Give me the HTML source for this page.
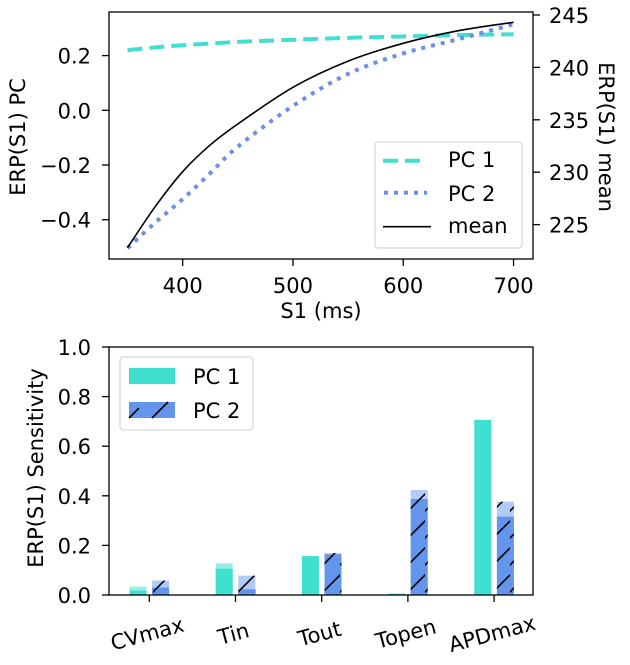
<!DOCTYPE html>
<html><head><meta charset="utf-8"><style>
html,body{margin:0;padding:0;background:#fff;}
svg{display:block;font-family:"DejaVu Sans","Liberation Sans",sans-serif;}
</style></head><body>
<svg id="chart" width="630" height="665" viewBox="0 0 630 665" xmlns="http://www.w3.org/2000/svg">
<defs>
<pattern id="hatch" patternUnits="userSpaceOnUse" width="17" height="27" x="0" y="0">
<line x1="-2" y1="27" x2="19" y2="6" stroke="#000" stroke-width="1.6"/>
<line x1="-2" y1="54" x2="19" y2="33" stroke="#000" stroke-width="1.6"/>
<line x1="-2" y1="0" x2="19" y2="-21" stroke="#000" stroke-width="1.6"/>
</pattern>
</defs>
<g id="topChart"></g>
<g id="botChart"></g>
</svg>
<script>
// top chart data
const s1Values = [350, 375, 400, 425, 450, 500, 550, 600, 650, 700];
const pc1Values = [0.22, 0.23, 0.238, 0.244, 0.25, 0.258, 0.265, 0.27, 0.275, 0.278];
const pc2Values = [-0.504, -0.411, -0.325, -0.23, -0.133, 0.016, 0.133, 0.208, 0.26, 0.315];
const meanValues = [222.8, 226.7, 230.05, 232.6, 234.6, 238.1, 240.6, 242.3, 243.5, 244.3];
const xTicks = [400, 500, 600, 700];
const yLeftTicks = [-0.4, -0.2, 0.0, 0.2];
const yLeftLabels = ["−0.4", "−0.2", "0.0", "0.2"];
const yRightTicks = [225, 230, 235, 240, 245];
// bottom chart data
const categories = ["CVmax", "Tin", "Tout", "Topen", "APDmax"];
const pc1Light = [0.034, 0.128, 0.157, 0.005, 0.706];
const pc1Dark = [0.018, 0.106, 0.157, 0.005, 0.706];
const pc2Light = [0.058, 0.078, 0.169, 0.423, 0.376];
const pc2Dark = [0.03, 0.023, 0.164, 0.387, 0.316];
const yBarTicks = [0.0, 0.2, 0.4, 0.6, 0.8, 1.0];

const NS = "http://www.w3.org/2000/svg";
const FS = 21;
function mk(parent, tag, attrs, text) {
  const e = document.createElementNS(NS, tag);
  for (const k in attrs) e.setAttribute(k, attrs[k]);
  if (text !== undefined) e.textContent = text;
  parent.appendChild(e);
  return e;
}
const topG = document.getElementById("topChart");
const botG = document.getElementById("botChart");

const tx = v => 127.5 + (v - 350) * 1.103;
const tyL = v => 110.3 - v * 273.5;
const tyR = v => 15 + (245 - v) * 10.48;
const T = {l: 109, r: 533, t: 12, b: 259};

function smoothPath(xs, ys) {
  let d = "M" + xs[0] + "," + ys[0];
  for (let i = 0; i < xs.length - 1; i++) {
    const x0 = xs[Math.max(i - 1, 0)], y0 = ys[Math.max(i - 1, 0)];
    const x3 = xs[Math.min(i + 2, xs.length - 1)], y3 = ys[Math.min(i + 2, xs.length - 1)];
    const c1x = xs[i] + (xs[i + 1] - x0) / 6, c1y = ys[i] + (ys[i + 1] - y0) / 6;
    const c2x = xs[i + 1] - (x3 - xs[i]) / 6, c2y = ys[i + 1] - (y3 - ys[i]) / 6;
    d += " C" + c1x + "," + c1y + " " + c2x + "," + c2y + " " + xs[i + 1] + "," + ys[i + 1];
  }
  return d;
}
function line(parent, xs, ys, attrs, name) {
  const p = mk(parent, "path", Object.assign({d: smoothPath(xs, ys), fill: "none"}, attrs));
  
  
  return p;
}
line(topG, s1Values.map(tx), pc1Values.map(tyL), {stroke: "#40e0d0", "stroke-width": 4, "stroke-dasharray": "15,7"}, "pc1-line");
line(topG, s1Values.map(tx), pc2Values.map(tyL), {stroke: "#6d8fe6", "stroke-width": 4, "stroke-dasharray": "4,6"}, "pc2-line");
line(topG, s1Values.map(tx), meanValues.map(tyR), {stroke: "#000", "stroke-width": 1.6}, "mean-line");

let fr = mk(topG, "rect", {x: T.l, y: T.t, width: T.r - T.l, height: T.b - T.t, fill: "none", stroke: "#000", "stroke-width": 1.3});


xTicks.forEach(v => {
  mk(topG, "line", {x1: tx(v), x2: tx(v), y1: T.b, y2: T.b + 7, stroke: "#000", "stroke-width": 1.3});
  const t = mk(topG, "text", {x: tx(v), y: 293, "text-anchor": "middle", "font-size": FS}, v);
  
  
});
yLeftTicks.forEach((v, i) => {
  mk(topG, "line", {x1: T.l - 7, x2: T.l, y1: tyL(v), y2: tyL(v), stroke: "#000", "stroke-width": 1.3});
  const t = mk(topG, "text", {x: 91, y: tyL(v) + 8, "text-anchor": "end", "font-size": FS}, yLeftLabels[i]);
  
  
});
yRightTicks.forEach(v => {
  mk(topG, "line", {x1: T.r, x2: T.r + 7, y1: tyR(v), y2: tyR(v), stroke: "#000", "stroke-width": 1.3});
  const t = mk(topG, "text", {x: T.r + 16, y: tyR(v) + 8, "font-size": FS}, v);
  
  
});
let lab = mk(topG, "text", {x: 321, y: 318, "text-anchor": "middle", "font-size": FS}, "S1 (ms)");


lab = mk(topG, "text", {transform: "translate(25,137) rotate(-90)", "text-anchor": "middle", "font-size": FS}, "ERP(S1) PC");


lab = mk(topG, "text", {transform: "translate(599,137) rotate(90)", "text-anchor": "middle", "font-size": FS}, "ERP(S1) mean");



let lg = mk(topG, "g", {});


mk(lg, "rect", {x: 375, y: 142, width: 147, height: 106, rx: 3, fill: "#fff", "fill-opacity": 0.8, stroke: "#ccc"});
mk(lg, "line", {x1: 383, x2: 427, y1: 160.7, y2: 160.7, stroke: "#40e0d0", "stroke-width": 4, "stroke-dasharray": "15,7"});
mk(lg, "line", {x1: 384, x2: 427, y1: 192.7, y2: 192.7, stroke: "#6d8fe6", "stroke-width": 4, "stroke-dasharray": "4,6"});
mk(lg, "line", {x1: 383, x2: 431, y1: 226.7, y2: 226.7, stroke: "#000", "stroke-width": 1.6});
[["PC 1", 167], ["PC 2", 201], ["mean", 233]].forEach(([s, y]) => {
  const t = mk(lg, "text", {x: 448, y: y, "font-size": FS}, s);
  
  
});

const B = {l: 109, r: 533, t: 347, b: 595};
const by = v => B.b - v * 248;
const bx = i => 149.3 + i * 86.2;
const bw = 17;
categories.forEach((c, i) => {
  const x1 = bx(i) - 11.3 - bw / 2, x2 = bx(i) + 11.3 - bw / 2;
  let r = mk(botG, "rect", {x: x1, y: by(pc1Light[i]), width: bw, height: B.b - by(pc1Light[i]), fill: "#40e0d0", "fill-opacity": 0.55});
  
  
  r = mk(botG, "rect", {x: x1, y: by(pc1Dark[i]), width: bw, height: B.b - by(pc1Dark[i]), fill: "#40e0d0"});
  
  
  r = mk(botG, "rect", {x: x2, y: by(pc2Light[i]), width: bw, height: B.b - by(pc2Light[i]), fill: "#6495ed", "fill-opacity": 0.5});
  
  
  r = mk(botG, "rect", {x: x2, y: by(pc2Dark[i]), width: bw, height: B.b - by(pc2Dark[i]), fill: "#6495ed"});
  
  
  r = mk(botG, "rect", {x: x2, y: by(pc2Light[i]), width: bw, height: B.b - by(pc2Light[i]), fill: "url(#hatch)"});
  
  
  mk(botG, "line", {x1: bx(i), x2: bx(i), y1: B.b, y2: B.b + 7, stroke: "#000", "stroke-width": 1.3});
  const t = mk(botG, "text", {transform: "translate(" + (bx(i) - 2) + ",634) rotate(-15)", "text-anchor": "middle", "font-size": FS, dy: 7}, c);
  
  
});
fr = mk(botG, "rect", {x: B.l, y: B.t, width: B.r - B.l, height: B.b - B.t, fill: "none", stroke: "#000", "stroke-width": 1.3});


yBarTicks.forEach(v => {
  mk(botG, "line", {x1: B.l - 7, x2: B.l, y1: by(v), y2: by(v), stroke: "#000", "stroke-width": 1.3});
  const t = mk(botG, "text", {x: 91, y: by(v) + 8, "text-anchor": "end", "font-size": FS}, v.toFixed(1));
  
  
});
lab = mk(botG, "text", {transform: "translate(43,468) rotate(-90)", "text-anchor": "middle", "font-size": FS}, "ERP(S1) Sensitivity");


lg = mk(botG, "g", {});


mk(lg, "rect", {x: 120, y: 357, width: 133, height: 73, rx: 3, fill: "#fff", "fill-opacity": 0.8, stroke: "#ccc"});
mk(lg, "rect", {x: 129, y: 368, width: 46, height: 16, fill: "#40e0d0"});
mk(lg, "rect", {x: 129, y: 402, width: 46, height: 16, fill: "#6495ed"});
mk(lg, "line", {x1: 129, y1: 418, x2: 139, y2: 408, stroke: "#000", "stroke-width": 1.6});
mk(lg, "line", {x1: 152, y1: 418, x2: 168, y2: 402, stroke: "#000", "stroke-width": 1.6});
[["PC 1", 384], ["PC 2", 418]].forEach(([s, y]) => {
  const t = mk(lg, "text", {x: 193, y: y, "font-size": FS}, s);
  
  
});
</script>
</body></html>
